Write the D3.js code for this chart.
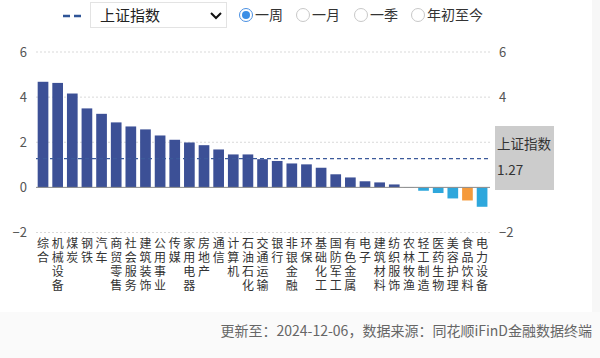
<!DOCTYPE html>
<html><head><meta charset="utf-8">
<script src="https://cdn.jsdelivr.net/npm/d3@7/dist/d3.min.js"></script>
<style>
body{margin:0;background:#fff;font-family:"Noto Sans CJK SC","Noto Sans",sans-serif;}
svg{display:block}
</style></head><body>
<svg id="c" width="600" height="358"></svg>
<script>
const categories = ["综合","机械设备","煤炭","钢铁","汽车","商贸零售","社会服务","建筑装饰","公用事业","传媒","家用电器","房地产","通信","计算机","石油石化","交通运输","银行","非银金融","环保","基础化工","国防军工","有色金属","电子","建筑材料","纺织服饰","农林牧渔","轻工制造","医药生物","美容护理","食品饮料","电力设备"];
const values = [4.68,4.63,4.16,3.50,3.26,2.88,2.70,2.57,2.30,2.11,1.99,1.87,1.68,1.46,1.46,1.25,1.17,1.06,1.02,0.87,0.58,0.44,0.27,0.22,0.13,0.01,-0.15,-0.25,-0.49,-0.58,-0.86];
const highlighted = ["食品饮料"];
const benchmarkName = "上证指数";
const benchmarkValue = 1.27;
const yTicks = [-2,0,2,4,6];
const rightTicks = [-2,4,6];
const periods = ["一周","一月","一季","年初至今"];
const footer = "更新至：2024-12-06，数据来源：同花顺iFinD金融数据终端";

const svg = d3.select("#c");
const font = '"Noto Sans CJK SC","Noto Sans",sans-serif';
const labelFont = '"Liberation Sans","Noto Sans CJK SC",sans-serif';

// panel backgrounds
svg.append("rect").attr("x",0).attr("y",0).attr("width",600).attr("height",358).attr("fill","#f7f7f7");
svg.append("rect").attr("x",0).attr("y",0).attr("width",592).attr("height",312).attr("fill","#ffffff");
svg.append("rect").attr("x",0).attr("y",312).attr("width",600).attr("height",46).attr("fill","#fafafa");

const x = d3.scaleBand().domain(categories).range([35.7,489.4]).paddingInner(0.27).paddingOuter(0.135);
const y = d3.scaleLinear().domain([-2,6]).range([232.5,52]);

// grid
svg.append("g").selectAll("line").data(yTicks.filter(d=>d!==0)).join("line")
  .attr("x1",36).attr("x2",490).attr("y1",d=>y(d)).attr("y2",d=>y(d))
  .attr("stroke","#d9d9d9").attr("stroke-dasharray","2,2").attr("stroke-width",1);

// left axis
const la = svg.append("g").attr("transform","translate(30,0)").call(d3.axisLeft(y).tickValues(yTicks).tickSize(0).tickPadding(3).tickFormat(d3.format("d")));
la.select(".domain").remove();
la.selectAll("text").attr("font-size",13).attr("fill","#555").attr("font-family",font);
const ra = svg.append("g").attr("transform","translate(496,0)").call(d3.axisRight(y).tickValues(rightTicks).tickSize(0).tickPadding(3).tickFormat(d3.format("d")));
ra.select(".domain").remove();
ra.selectAll("text").attr("font-size",13).attr("fill","#555").attr("font-family",font);

// bars
svg.append("g").selectAll("rect").data(categories).join("rect")
  .attr("x",d=>x(d)).attr("width",x.bandwidth())
  .attr("y",(d,i)=>y(Math.max(0,values[i])))
  .attr("height",(d,i)=>Math.abs(y(values[i])-y(0)))
  .attr("fill",(d,i)=>highlighted.includes(d)?"#f59a3b":(values[i]<0?"#2ea7dc":"#3c5096"));

// zero line
svg.append("line").attr("x1",36).attr("x2",490).attr("y1",y(0)).attr("y2",y(0)).attr("stroke","#8a8a8a").attr("stroke-width",1);

// benchmark line
svg.append("line").attr("x1",36).attr("x2",490).attr("y1",y(benchmarkValue)).attr("y2",y(benchmarkValue))
  .attr("stroke","#3c5a9a").attr("stroke-dasharray","4,3").attr("stroke-width",1.2);
svg.append("rect").attr("x",495).attr("y",126).attr("width",59).attr("height",64).attr("fill","#cccccc");
svg.append("text").attr("x",497).attr("y",149).attr("font-size",13.5).attr("fill","#333").attr("font-family",font).text(benchmarkName);
svg.append("text").attr("x",497).attr("y",175).attr("font-size",13.5).attr("fill","#333").attr("font-family",font).text(benchmarkValue.toFixed(2));

// category labels (vertical, one text per character)
const lg = svg.append("g");
categories.forEach(d=>{
  const cx = x(d)+x.bandwidth()/2;
  Array.from(d).forEach((ch,k)=>{
    lg.append("text").attr("x",cx).attr("y",248+k*14)
      .attr("font-size",12).attr("fill","#333").attr("font-family",labelFont).attr("text-anchor","middle").text(ch);
  });
});

// header
const hdr = svg.append("g");
hdr.append("line").attr("x1",63).attr("x2",81).attr("y1",16).attr("y2",16).attr("stroke","#2f5597").attr("stroke-width",2.5).attr("stroke-dasharray","7,4");
hdr.append("rect").attr("x",90.5).attr("y",2.5).attr("width",136).attr("height",25).attr("fill","#fff").attr("stroke","#e3e3e3");
hdr.append("text").attr("x",100).attr("y",21).attr("font-size",15).attr("fill","#222").attr("font-family",font).text(benchmarkName);
hdr.append("path").attr("d","M211,13 L216,18 L221,13").attr("fill","none").attr("stroke","#111").attr("stroke-width",2);
const radioX = [246,303,361,418];
periods.forEach((p,i)=>{
  hdr.append("circle").attr("cx",radioX[i]).attr("cy",15).attr("r",6.5).attr("fill","#fff").attr("stroke",i===0?"#4a90e2":"#c8c8c8").attr("stroke-width",1);
  if(i===0) hdr.append("circle").attr("cx",radioX[i]).attr("cy",15).attr("r",4).attr("fill","#3a8ee6");
  hdr.append("text").attr("x",radioX[i]+9).attr("y",20).attr("font-size",14).attr("fill","#333").attr("font-family",font).text(p);
});

// footer
svg.append("text").attr("x",592).attr("y",336).attr("text-anchor","end").attr("font-size",14).attr("fill","#666").attr("font-family",font).text(footer);
</script></body></html>
